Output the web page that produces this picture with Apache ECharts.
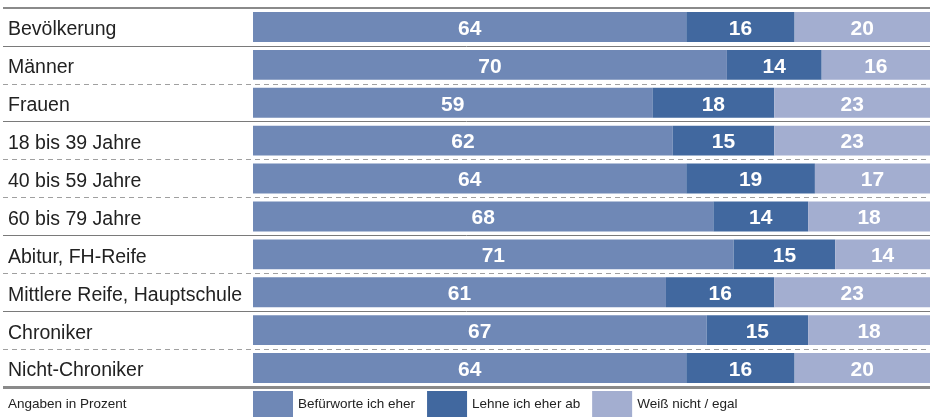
<!DOCTYPE html>
<html>
<head>
<meta charset="utf-8">
<script src="https://cdn.jsdelivr.net/npm/echarts@6/dist/echarts.min.js"></script>
<style>
html,body{margin:0;padding:0;background:#fff;}
#main{width:930px;height:417px;}
</style>
</head>
<body>
<div id="main"></div>
<script>
var categories = ['Bevölkerung','Männer','Frauen','18 bis 39 Jahre','40 bis 59 Jahre','60 bis 79 Jahre','Abitur, FH-Reife','Mittlere Reife, Hauptschule','Chroniker','Nicht-Chroniker'];
var befuerworte = [64,70,59,62,64,68,71,61,67,64];
var lehne = [16,14,18,15,19,14,15,16,15,16];
var weissNicht = [20,16,23,23,17,18,14,23,18,20];
var seriesNames = ['Befürworte ich eher','Lehne ich eher ab','Weiß nicht / egal'];
var colors = ['#6f88b6','#41689f','#a3aed0'];
// Trennlinien zwischen den Zeilen (0 = oben, 10 = unten)
var separatorPos = [0,1,2,3,4,5,6,7,8,9,10];
var separatorType = ['top','solid','dashed','solid','dashed','dashed','solid','dashed','solid','dashed','bottom'];

var FONT = '"Liberation Sans",Arial,sans-serif';

var myChart = echarts.init(document.getElementById('main'), null, {renderer:'canvas'});

function barSeries(idx, data) {
    return {
        name: seriesNames[idx],
        type: 'bar',
        stack: 'total',
        barCategoryGap: '21%',
        itemStyle: {color: colors[idx]},
        label: {
            show: true,
            position: 'inside',
            offset: [0, 2],
            color: '#fff',
            fontFamily: FONT,
            fontWeight: 'bold',
            fontSize: 21
        },
        z: 3,
        data: data
    };
}

var markData = separatorPos.map(function (p, i) {
    var t = separatorType[i];
    var ls;
    if (t == 'top') ls = {color:'#8a8a8a', width:2, type:'solid'};
    else if (t == 'bottom') ls = {color:'#8a8a8a', width:3, type:'solid'};
    else if (t == 'solid') ls = {color:'#7a7a7a', width:1, type:'solid'};
    else ls = {color:'#a0a0a0', width:1, type:[5,4]};
    return {yAxis: p, lineStyle: ls};
});

var option = {
    animation: false,
    title: {
        text: 'Angaben in Prozent',
        left: 8,
        top: 397,
        padding: 0,
        textStyle: {fontFamily: FONT, fontSize: 13.5, fontWeight: 'normal', color: '#222'}
    },
    legend: {
        left: 253,
        top: 391,
        padding: 0,
        itemWidth: 40,
        itemHeight: 26,
        itemGap: 12,
        icon: 'rect',
        data: seriesNames,
        textStyle: {fontFamily: FONT, fontSize: 13.5, color: '#222'}
    },
    grid: {left: 3, right: 0, top: 8, bottom: 30, containLabel: false},
    xAxis: {
        type: 'value',
        min: -36.93,
        max: 100,
        show: false
    },
    yAxis: [{
        type: 'category',
        inverse: true,
        data: categories,
        axisLine: {show: false},
        axisTick: {show: false},
        splitLine: {show: false},
        axisLabel: {
            inside: true,
            margin: 5,
            formatter: '{c|{value}}',
            rich: {
                c: {
                    color: '#222',
                    fontFamily: FONT,
                    fontSize: 19.5,
                    padding: [6, 0, 0, 0]
                }
            }
        }
    }, {
        type: 'value',
        inverse: true,
        min: 0,
        max: 10,
        show: false
    }],
    series: [
        barSeries(0, befuerworte),
        barSeries(1, lehne),
        barSeries(2, weissNicht),
        {
            type: 'line',
            yAxisIndex: 1,
            data: [],
            silent: true,
            z: 1,
            markLine: {
                silent: true,
                symbol: ['none','none'],
                label: {show: false},
                data: markData
            }
        }
    ]
};

myChart.setOption(option);
</script>
</body>
</html>
